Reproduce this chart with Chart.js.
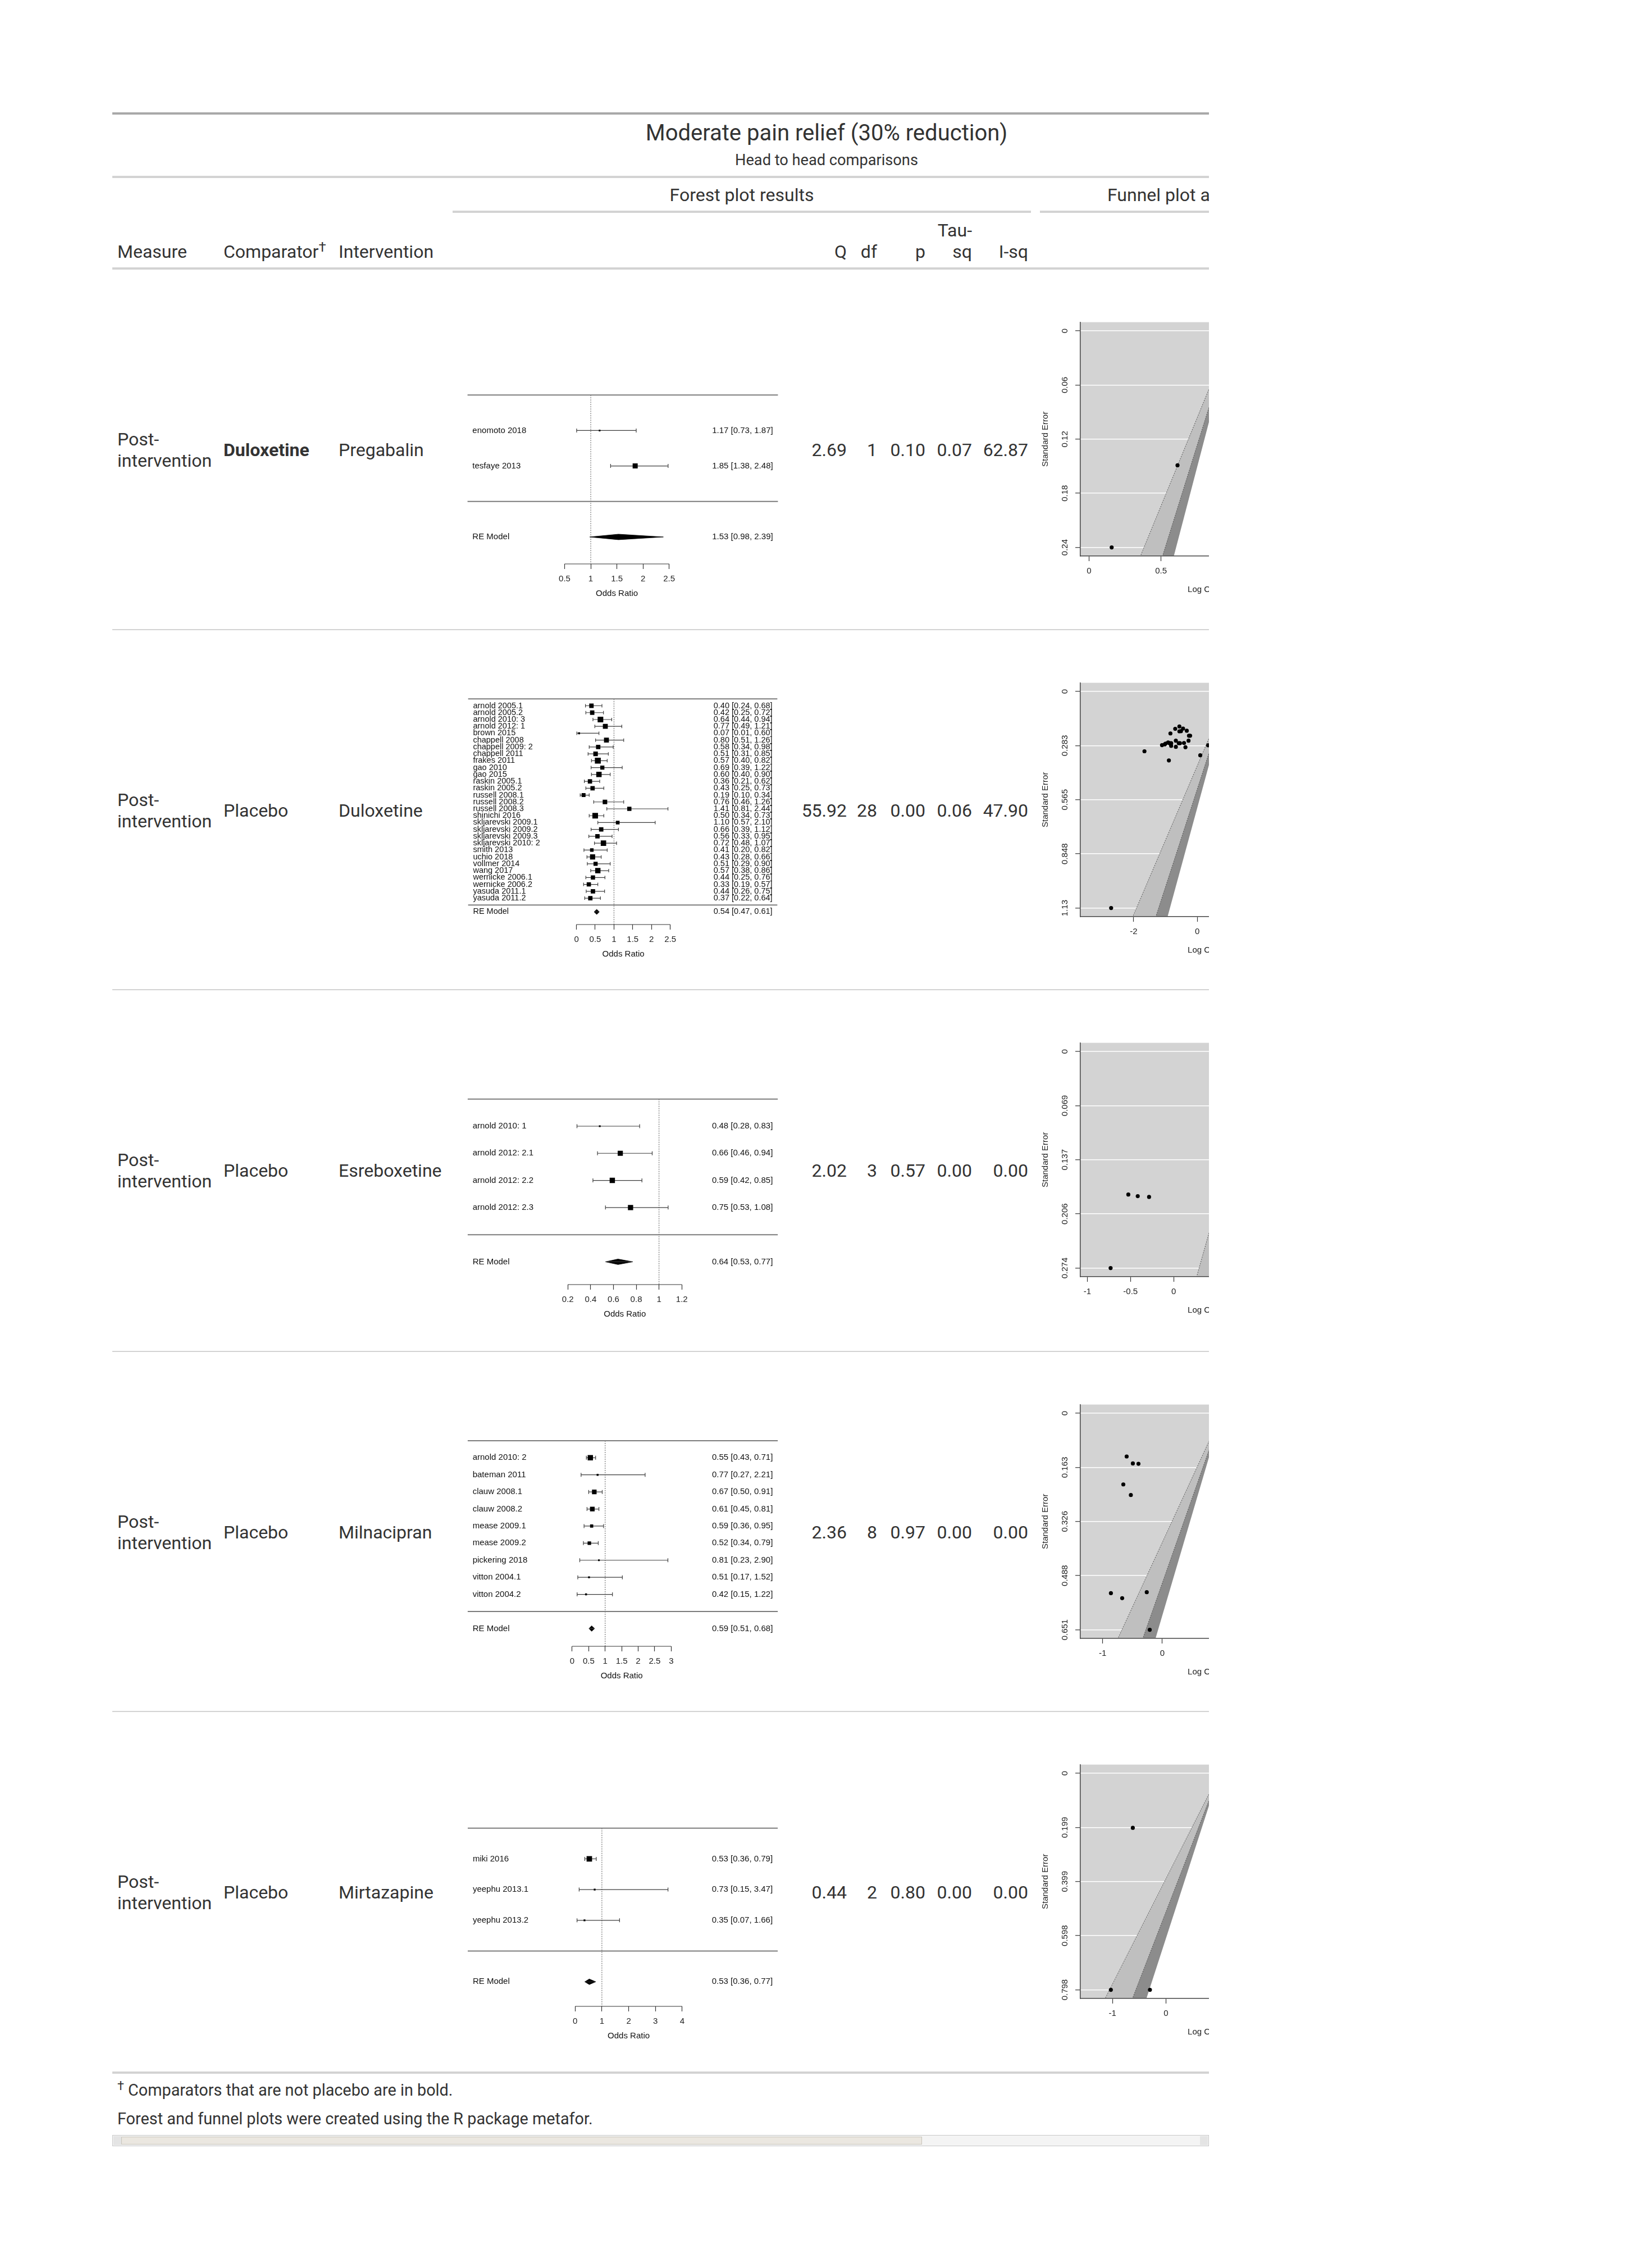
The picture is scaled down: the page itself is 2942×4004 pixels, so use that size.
<!DOCTYPE html>
<html>
<head>
<meta charset="utf-8">
<title>Moderate pain relief (30% reduction)</title>
<script src="https://cdn.jsdelivr.net/npm/chart.js@4.4.1/dist/chart.umd.min.js"></script>
<style>
  html, body { margin:0; padding:0; background:#ffffff; }
  body { width:2942px; height:4004px; position:relative; overflow:hidden; }
  #clip { position:absolute; left:0; top:0; width:2153px; height:4004px; overflow:hidden;
          font-family:Roboto, "Liberation Sans", sans-serif; color:#333333; }
  .tx { position:absolute; white-space:nowrap; }
  .ln { position:absolute; }
  .mark { font-size:75%; position:relative; top:-0.45em; }
  canvas { position:absolute; }
</style>
</head>
<body>
<div id="clip"></div>
<script>
// ================= TABLE DATA =================
const tableTitle = "Moderate pain relief (30% reduction)";
const tableSubtitle = "Head to head comparisons";
const measureLabels = ["Post-intervention","Post-intervention","Post-intervention","Post-intervention","Post-intervention"];
const comparatorLabels = ["Duloxetine","Placebo","Placebo","Placebo","Placebo"];
const comparatorBold = [true,false,false,false,false];
const interventionLabels = ["Pregabalin","Duloxetine","Esreboxetine","Milnacipran","Mirtazapine"];
const heterogeneityQ = ["2.69","55.92","2.02","2.36","0.44"];
const heterogeneityDf = ["1","28","3","8","2"];
const heterogeneityP = ["0.10","0.00","0.57","0.97","0.80"];
const heterogeneityTau2 = ["0.07","0.06","0.00","0.00","0.00"];
const heterogeneityI2 = ["62.87","47.90","0.00","0.00","0.00"];
const statHeaders = ["Q","df","p","Tau-sq","I-sq"];

// ================= FOREST PLOT DATA =================
const forest1Studies = ["enomoto 2018","tesfaye 2013"];
const forest1OR    = [1.17, 1.85];
const forest1Lower = [0.73, 1.38];
const forest1Upper = [1.87, 2.48];
const forest1Summary = [1.53, 0.98, 2.39];
const forest1Ticks = [0.5, 1, 1.5, 2, 2.5];
const forest1TickLabels = ["0.5","1","1.5","2","2.5"];

const forest2Studies = ["arnold 2005.1","arnold 2005.2","arnold 2010: 3","arnold 2012: 1","brown 2015","chappell 2008",
  "chappell 2009: 2","chappell 2011","frakes 2011","gao 2010","gao 2015","raskin 2005.1","raskin 2005.2",
  "russell 2008.1","russell 2008.2","russell 2008.3","shinichi 2016","skljarevski 2009.1","skljarevski 2009.2",
  "skljarevski 2009.3","skljarevski 2010: 2","smith 2013","uchio 2018","vollmer 2014","wang 2017",
  "wernicke 2006.1","wernicke 2006.2","yasuda 2011.1","yasuda 2011.2"];
const forest2OR    = [0.40,0.42,0.64,0.77,0.07,0.80,0.58,0.51,0.57,0.69,0.60,0.36,0.43,0.19,0.76,1.41,0.50,1.10,0.66,0.56,0.72,0.41,0.43,0.51,0.57,0.44,0.33,0.44,0.37];
const forest2Lower = [0.24,0.25,0.44,0.49,0.01,0.51,0.34,0.31,0.40,0.39,0.40,0.21,0.25,0.10,0.46,0.81,0.34,0.57,0.39,0.33,0.48,0.20,0.28,0.29,0.38,0.25,0.19,0.26,0.22];
const forest2Upper = [0.68,0.72,0.94,1.21,0.60,1.26,0.98,0.85,0.82,1.22,0.90,0.62,0.73,0.34,1.26,2.44,0.73,2.10,1.12,0.95,1.07,0.82,0.66,0.90,0.86,0.76,0.57,0.75,0.64];
const forest2Summary = [0.54, 0.47, 0.61];
const forest2Ticks = [0, 0.5, 1, 1.5, 2, 2.5];
const forest2TickLabels = ["0","0.5","1","1.5","2","2.5"];

const forest3Studies = ["arnold 2010: 1","arnold 2012: 2.1","arnold 2012: 2.2","arnold 2012: 2.3"];
const forest3OR    = [0.48, 0.66, 0.59, 0.75];
const forest3Lower = [0.28, 0.46, 0.42, 0.53];
const forest3Upper = [0.83, 0.94, 0.85, 1.08];
const forest3Summary = [0.64, 0.53, 0.77];
const forest3Ticks = [0.2, 0.4, 0.6, 0.8, 1, 1.2];
const forest3TickLabels = ["0.2","0.4","0.6","0.8","1","1.2"];

const forest4Studies = ["arnold 2010: 2","bateman 2011","clauw 2008.1","clauw 2008.2","mease 2009.1","mease 2009.2","pickering 2018","vitton 2004.1","vitton 2004.2"];
const forest4OR    = [0.55, 0.77, 0.67, 0.61, 0.59, 0.52, 0.81, 0.51, 0.42];
const forest4Lower = [0.43, 0.27, 0.50, 0.45, 0.36, 0.34, 0.23, 0.17, 0.15];
const forest4Upper = [0.71, 2.21, 0.91, 0.81, 0.95, 0.79, 2.90, 1.52, 1.22];
const forest4Summary = [0.59, 0.51, 0.68];
const forest4Ticks = [0, 0.5, 1, 1.5, 2, 2.5, 3];
const forest4TickLabels = ["0","0.5","1","1.5","2","2.5","3"];

const forest5Studies = ["miki 2016","yeephu 2013.1","yeephu 2013.2"];
const forest5OR    = [0.53, 0.73, 0.35];
const forest5Lower = [0.36, 0.15, 0.07];
const forest5Upper = [0.79, 3.47, 1.66];
const forest5Summary = [0.53, 0.36, 0.77];
const forest5Ticks = [0, 1, 2, 3, 4];
const forest5TickLabels = ["0","1","2","3","4"];

// ================= FUNNEL PLOT DATA =================
const funnel1LogOR = [0.157, 0.615];
const funnel1SE    = [0.240, 0.149];
const funnel1YTicks = [0, 0.06, 0.12, 0.18, 0.24];
const funnel1YLabels = ["0","0.06","0.12","0.18","0.24"];
const funnel1XTicks = [0, 0.5, 1, 1.5];

const funnel2LogOR = [-0.916,-0.868,-0.446,-0.261,-2.71,-0.223,-0.545,-0.673,-0.562,-0.371,-0.511,-1.022,-0.844,-1.661,-0.274,0.344,-0.693,0.095,-0.416,-0.580,-0.329,-0.892,-0.844,-0.673,-0.562,-0.821,-1.109,-0.821,-0.994];
const funnel2SE    = [0.266,0.270,0.194,0.231,1.130,0.231,0.270,0.257,0.183,0.291,0.207,0.276,0.273,0.312,0.257,0.281,0.195,0.333,0.269,0.270,0.205,0.360,0.219,0.289,0.208,0.284,0.280,0.270,0.272];
const funnel2YTicks = [0, 0.2825, 0.565, 0.8475, 1.13];
const funnel2YLabels = ["0","0.283","0.565","0.848","1.13"];
const funnel2XTicks = [-2, 0, 2, 4];

const funnel3LogOR = [-0.730, -0.416, -0.525, -0.285];
const funnel3SE    = [0.274, 0.183, 0.181, 0.184];
const funnel3YTicks = [0, 0.0685, 0.137, 0.2055, 0.274];
const funnel3YLabels = ["0","0.069","0.137","0.206","0.274"];
const funnel3XTicks = [-1, -0.5, 0, 0.5, 1, 1.5, 2];

const funnel4LogOR = [-0.598, -0.261, -0.400, -0.494, -0.528, -0.654, -0.211, -0.673, -0.862];
const funnel4SE    = [0.130, 0.538, 0.152, 0.151, 0.246, 0.214, 0.651, 0.556, 0.541];
const funnel4YTicks = [0, 0.16275, 0.3255, 0.48825, 0.651];
const funnel4YLabels = ["0","0.163","0.326","0.488","0.651"];
const funnel4XTicks = [-1, 0, 1, 2, 3];

const funnel5LogOR = [-0.62, -0.30, -1.03];
const funnel5SE    = [0.201, 0.798, 0.798];
const funnel5YTicks = [0, 0.1995, 0.399, 0.5985, 0.798];
const funnel5YLabels = ["0","0.199","0.399","0.598","0.798"];
const funnel5XTicks = [-1, 0, 1, 2, 3];

const contourZ = [2.576, 1.960, 1.645];   // 99%, 95%, 90% pseudo-confidence contours
const funnelRefline = 1;

// ================= LAYOUT / STYLE =================
const FONT_R = '"Liberation Sans", Arimo, Arial, sans-serif';
const CLIP_W = 2153;
const rowTops = [480, 1122, 1763, 2407, 3048];
const statRight = [1508, 1562, 1648, 1731, 1831];
const forestXRange = [[-1.360, 4.584], [-2.892, 5.360], [-0.680, 2.043], [-3.169, 6.232], [-4.015, 7.572]];
const forestSymbolPx = [6, 7, 6.3, 6.3, 6.5];
const forestFontPx = [15, 14.5, 15, 15, 15];
const funnelXRange = [[-0.0607, 1.839], [-3.678, 4.918], [-1.080, 2.081], [-1.374, 3.205], [-1.600, 3.504]];

const clip = document.getElementById('clip');
function rect(x, y, w, h, color) {
  const e = document.createElement('div'); e.className = 'ln';
  Object.assign(e.style, {left:x+'px', top:y+'px', width:w+'px', height:h+'px', background:color});
  clip.appendChild(e); return e;
}
function label(html, x, cy, o = {}) {
  const size = o.size || 32, lh = o.lh || Math.round(size * 1.19), lines = o.lines || 1;
  const e = document.createElement('div'); e.className = 'tx';
  e.innerHTML = html;
  e.style.fontSize = size + 'px'; e.style.lineHeight = lh + 'px';
  if (o.weight) e.style.fontWeight = o.weight;
  e.style.top = (cy - lines * lh / 2) + 'px';
  if (o.align === 'right') { e.style.right = (CLIP_W - x) + 'px'; e.style.textAlign = 'right'; }
  else if (o.align === 'center') { e.style.left = (x - 1500) + 'px'; e.style.width = '3000px'; e.style.textAlign = 'center'; }
  else e.style.left = x + 'px';
  if (o.wrapWidth) { e.style.whiteSpace = 'normal'; e.style.width = o.wrapWidth + 'px'; }
  clip.appendChild(e); return e;
}

// ---------- table frame ----------
rect(200, 200, CLIP_W - 200, 4, '#A8A8A8');
label(tableTitle, 1472, 237, {size:40, align:'center'});
label(tableSubtitle, 1472, 285, {size:27.2, align:'center'});
rect(200, 313, CLIP_W - 200, 4, '#D3D3D3');
label("Forest plot results", 1321, 347, {align:'center'});
rect(806, 375, 1030, 4, '#D3D3D3');
label("Funnel plot and", 1972, 347);
rect(1852, 375, CLIP_W - 1852, 4, '#D3D3D3');
label("Measure", 209, 448);
label('Comparator<span class="mark">†</span>', 398, 448);
label("Intervention", 603, 448);
statHeaders.forEach((h, j) => {
  if (h === "Tau-sq") label(h, statRight[j], 429, {align:'right', lines:2, lh:38, wrapWidth:72});
  else label(h, statRight[j], 448, {align:'right'});
});
rect(200, 476, CLIP_W - 200, 4, '#D3D3D3');

rowTops.forEach((t, i) => {
  if (i > 0) rect(200, t - 2, CLIP_W - 200, 2, '#D3D3D3');
  const cy = t + 321;
  label(measureLabels[i], 209, cy, {lines:2, lh:38, wrapWidth:180});
  label(comparatorLabels[i], 398, cy, {weight: comparatorBold[i] ? 'bold' : null});
  label(interventionLabels[i], 603, cy);
  [heterogeneityQ, heterogeneityDf, heterogeneityP, heterogeneityTau2, heterogeneityI2].forEach((arr, j) => {
    label(arr[i], statRight[j], cy, {align:'right'});
  });
});
rect(200, 3688, CLIP_W - 200, 4, '#D3D3D3');
label('<span class="mark">†</span> Comparators that are not placebo are in bold.', 209, 3721, {size:28.8});
label('Forest and funnel plots were created using the R package metafor.', 209, 3772, {size:28.8});

// scrollbar imitation
rect(200, 3801, CLIP_W - 200, 20, '#f4f4f4').style.boxShadow = 'inset 0 0 0 1px #c8c8c8';
rect(202, 3803, 14, 16, '#e4e4e4');
rect(216, 3804, 1426, 14, '#ebe7e0').style.boxShadow = 'inset 0 0 0 1px #c9c4bb';
rect(CLIP_W - 16, 3803, 14, 16, '#e4e4e4');

// ---------- Chart helpers ----------
function makeCanvas(left, top, w, h) {
  const c = document.createElement('canvas');
  c.width = w; c.height = h;
  Object.assign(c.style, {left:left+'px', top:top+'px', width:w+'px', height:h+'px'});
  clip.appendChild(c); return c;
}
function seg(data, o) {
  return Object.assign({type:'line', data, pointRadius:0, pointHoverRadius:0, fill:false, tension:0, borderWidth:1}, o);
}
function ciText(v, l, u) { return v.toFixed(2) + ' [' + l.toFixed(2) + ', ' + u.toFixed(2) + ']'; }

const forests = [
  {studies:forest1Studies, or:forest1OR, lower:forest1Lower, upper:forest1Upper, summary:forest1Summary, ticks:forest1Ticks, tickLabels:forest1TickLabels},
  {studies:forest2Studies, or:forest2OR, lower:forest2Lower, upper:forest2Upper, summary:forest2Summary, ticks:forest2Ticks, tickLabels:forest2TickLabels},
  {studies:forest3Studies, or:forest3OR, lower:forest3Lower, upper:forest3Upper, summary:forest3Summary, ticks:forest3Ticks, tickLabels:forest3TickLabels},
  {studies:forest4Studies, or:forest4OR, lower:forest4Lower, upper:forest4Upper, summary:forest4Summary, ticks:forest4Ticks, tickLabels:forest4TickLabels},
  {studies:forest5Studies, or:forest5OR, lower:forest5Lower, upper:forest5Upper, summary:forest5Summary, ticks:forest5Ticks, tickLabels:forest5TickLabels}
];
const funnels = [
  {x:funnel1LogOR, se:funnel1SE, yTicks:funnel1YTicks, yLabels:funnel1YLabels, xTicks:funnel1XTicks},
  {x:funnel2LogOR, se:funnel2SE, yTicks:funnel2YTicks, yLabels:funnel2YLabels, xTicks:funnel2XTicks},
  {x:funnel3LogOR, se:funnel3SE, yTicks:funnel3YTicks, yLabels:funnel3YLabels, xTicks:funnel3XTicks},
  {x:funnel4LogOR, se:funnel4SE, yTicks:funnel4YTicks, yLabels:funnel4YLabels, xTicks:funnel4XTicks},
  {x:funnel5LogOR, se:funnel5SE, yTicks:funnel5YTicks, yLabels:funnel5YLabels, xTicks:funnel5XTicks}
];

const FOREST_PLOT_H = 450, FOREST_AXIS_H = 70, FOREST_W = 566;

function drawForest(idx) {
  const d = forests[idx];
  const [xMin, xMax] = forestXRange[idx];
  const canvas = makeCanvas(826, rowTops[idx] + 74, FOREST_W, FOREST_PLOT_H + FOREST_AXIS_H);
  const k = d.studies.length;
  const lo = -1.5, hi = k + 3, ext = 0.04 * (hi - lo);
  const yMin = lo - ext, yMax = hi + ext;
  const unitPx = FOREST_PLOT_H / (yMax - yMin);
  const rows = d.studies.map((_, i) => k - i);
  // point size proportional to precision (metafor psize 0.5..1.5)
  const wi = d.lower.map((l, i) => 3.92 / (Math.log(d.upper[i]) - Math.log(l)));
  const wMin = Math.min(...wi), wMax = Math.max(...wi);
  const side = wi.map(w => (0.5 + (w - wMin) / (wMax - wMin)) * forestSymbolPx[idx]);
  const ds = [];
  const lineGrey = '#7c7c7c', ciCol = '#3c3c3c';
  ds.push(seg([{x:xMin, y:k + 1}, {x:xMax, y:k + 1}], {borderColor:lineGrey, borderWidth:2, order:5}));
  ds.push(seg([{x:xMin, y:0}, {x:xMax, y:0}], {borderColor:lineGrey, borderWidth:2, order:5}));
  ds.push(seg([{x:1, y:k + 1}, {x:1, y:yMin}], {borderColor:'#555', borderWidth:1, borderDash:[2, 2], order:6}));
  const capR = idx === 1 ? 3 : 3.5;
  rows.forEach((r, i) => {
    ds.push(seg([{x:d.lower[i], y:r}, {x:d.upper[i], y:r}], {borderColor:ciCol, borderWidth:1.2,
      pointStyle:'line', pointRotation:90, pointRadius:capR, pointHoverRadius:capR,
      pointBorderColor:ciCol, pointBorderWidth:1.2, order:3}));
  });
  ds.push({type:'scatter', data: rows.map((r, i) => ({x:d.or[i], y:r})), pointStyle:'rect',
    pointRadius: side.map(s => s / Math.SQRT2), pointHoverRadius: side.map(s => s / Math.SQRT2),
    pointBackgroundColor:'#000', backgroundColor:'#000', borderColor:'#000', pointBorderWidth:0, order:1});
  const h = (idx === 1 ? 4.5 : 5) / unitPx;
  const [est, sl, su] = d.summary;
  ds.push(seg([{x:sl, y:-1}, {x:est, y:-1 + h}, {x:su, y:-1}], {fill:{value:-1}, backgroundColor:'#000', borderColor:'#000', borderWidth:0.8, order:1}));
  ds.push(seg([{x:sl, y:-1}, {x:est, y:-1 - h}, {x:su, y:-1}], {fill:{value:-1}, backgroundColor:'#000', borderColor:'#000', borderWidth:0.8, order:1}));
  ds.push(seg([{x:d.ticks[0], y:yMin}, {x:d.ticks[d.ticks.length - 1], y:yMin}], {borderColor:'#333', borderWidth:1.2, clip:false, order:0}));

  const fs = forestFontPx[idx];
  const textPlugin = {
    id: 'forestText' + idx,
    afterDatasetsDraw(chart) {
      const {ctx, chartArea:a, scales:{x, y}} = chart;
      ctx.save();
      ctx.fillStyle = '#111';
      ctx.font = fs + 'px ' + FONT_R;
      ctx.textBaseline = 'middle';
      const left = x.getPixelForValue(xMin) + 9, right = x.getPixelForValue(xMax) - 9;
      d.studies.forEach((s, i) => {
        const py = y.getPixelForValue(rows[i]);
        ctx.textAlign = 'left'; ctx.fillText(s, left, py);
        ctx.textAlign = 'right'; ctx.fillText(ciText(d.or[i], d.lower[i], d.upper[i]), right, py);
      });
      const pr = y.getPixelForValue(-1);
      ctx.textAlign = 'left'; ctx.fillText('RE Model', left, pr);
      ctx.textAlign = 'right'; ctx.fillText(ciText(est, sl, su), right, pr);
      ctx.font = '15px ' + FONT_R; ctx.textAlign = 'center';
      const mid = (x.getPixelForValue(d.ticks[0]) + x.getPixelForValue(d.ticks[d.ticks.length - 1])) / 2;
      ctx.fillText('Odds Ratio', mid, a.bottom + 53);
      ctx.restore();
    }
  };

  new Chart(canvas, {
    type: 'scatter',
    data: {datasets: ds},
    options: {
      responsive:false, animation:false, devicePixelRatio:1, events:[],
      layout:{padding:0},
      plugins:{legend:{display:false}, tooltip:{enabled:false}, colors:{enabled:false}},
      scales:{
        x:{type:'linear', min:xMin, max:xMax,
           afterBuildTicks: s => { s.ticks = d.ticks.map(v => ({value:v})); },
           ticks:{autoSkip:false, maxRotation:0, minRotation:0, padding:9, color:'#222',
                  font:{family:FONT_R, size:15}, callback:(v, i) => d.tickLabels[i]},
           grid:{drawOnChartArea:false, drawTicks:true, tickLength:9, tickColor:'#333', tickWidth:1.2, color:'#333'},
           border:{display:false},
           afterFit: s => { s.height = FOREST_AXIS_H; }},
        y:{type:'linear', display:false, min:yMin, max:yMax}
      }
    },
    plugins:[textPlugin]
  });
}

const FUNNEL_PLOT_H = 420, FUNNEL_PLOT_W = 490, FUNNEL_YAXIS_W = 84, FUNNEL_XAXIS_H = 75;
function drawFunnel(idx) {
  const d = funnels[idx];
  const [xMin, xMax] = funnelXRange[idx];
  const canvas = makeCanvas(1924 - FUNNEL_YAXIS_W, rowTops[idx] + 90, FUNNEL_YAXIS_W + FUNNEL_PLOT_W, FUNNEL_PLOT_H + FUNNEL_XAXIS_H);
  const s = d.yTicks[d.yTicks.length - 1];
  const yMin = -0.04 * s, yMax = 1.04 * s;
  const sb = yMax * 1.05;
  const shades = ['#bfbfbf', '#8c8c8c', '#ffffff'];
  const ds = [];
  contourZ.forEach((z, i) => {
    const pts = [{x:funnelRefline - z * sb, y:sb}, {x:funnelRefline, y:0}, {x:funnelRefline + z * sb, y:sb}];
    ds.push(seg(pts, {fill:{value:sb}, backgroundColor:shades[i], borderWidth:0, borderColor:'rgba(0,0,0,0)', order:10 - i}));
    if (i < 2) ds.push(seg(pts, {borderColor:'#505050', borderWidth:1, borderDash:[2, 2], order:5}));
  });
  ds.push({type:'scatter', data:d.x.map((v, i) => ({x:v, y:d.se[i]})), pointRadius:3.6, pointHoverRadius:3.6,
    pointStyle:'circle', pointBackgroundColor:'#000', backgroundColor:'#000', pointBorderWidth:0, borderColor:'#000', order:0});

  const bgPlugin = {
    id:'funnelBg' + idx,
    beforeDraw(chart) {
      const {ctx, chartArea:a} = chart;
      ctx.save(); ctx.fillStyle = '#d3d3d3'; ctx.fillRect(a.left, a.top, a.right - a.left, a.bottom - a.top); ctx.restore();
    },
    afterDraw(chart) {
      const {ctx, chartArea:a, scales:{y}} = chart;
      ctx.save();
      ctx.fillStyle = '#222'; ctx.font = '15px ' + FONT_R;
      ctx.textAlign = 'center'; ctx.textBaseline = 'middle';
      d.yTicks.forEach((v, i) => {
        ctx.save();
        ctx.translate(a.left - 27, y.getPixelForValue(v));
        ctx.rotate(-Math.PI / 2);
        ctx.fillText(d.yLabels[i], 0, 0);
        ctx.restore();
      });
      ctx.restore();
    }
  };

  new Chart(canvas, {
    type:'scatter',
    data:{datasets:ds},
    options:{
      responsive:false, animation:false, devicePixelRatio:1, events:[],
      layout:{padding:0},
      plugins:{legend:{display:false}, tooltip:{enabled:false}, colors:{enabled:false}},
      scales:{
        x:{type:'linear', min:xMin, max:xMax,
           afterBuildTicks: sc => { sc.ticks = d.xTicks.map(v => ({value:v})); },
           ticks:{autoSkip:false, maxRotation:0, minRotation:0, padding:9, color:'#222',
                  font:{family:FONT_R, size:15}, callback:(v) => String(v)},
           grid:{drawOnChartArea:false, drawTicks:true, tickLength:9, tickColor:'#333', tickWidth:1.2, color:'#333'},
           border:{display:true, color:'#444', width:1.5, z:1},
           title:{display:true, text:'Log Odds Ratio', color:'#222', font:{family:FONT_R, size:15}, padding:{top:0, bottom:6}},
           afterFit: sc => { sc.height = FUNNEL_XAXIS_H; }},
        y:{type:'linear', reverse:true, min:yMin, max:yMax,
           afterBuildTicks: sc => { sc.ticks = d.yTicks.map(v => ({value:v})); },
           ticks:{display:false},
           grid:{color:'#ffffff', lineWidth:1.5, drawOnChartArea:true, drawTicks:true, tickLength:9, tickColor:'#333', tickWidth:1.2},
           border:{display:true, color:'#444', width:1.5, z:1},
           title:{display:true, text:'Standard Error', color:'#222', font:{family:FONT_R, size:15}, padding:{top:13, bottom:0}},
           afterFit: sc => { sc.width = FUNNEL_YAXIS_W; }}
      }
    },
    plugins:[bgPlugin]
  });
}

for (let i = 0; i < 5; i++) { drawForest(i); drawFunnel(i); }
</script>
</body>
</html>
